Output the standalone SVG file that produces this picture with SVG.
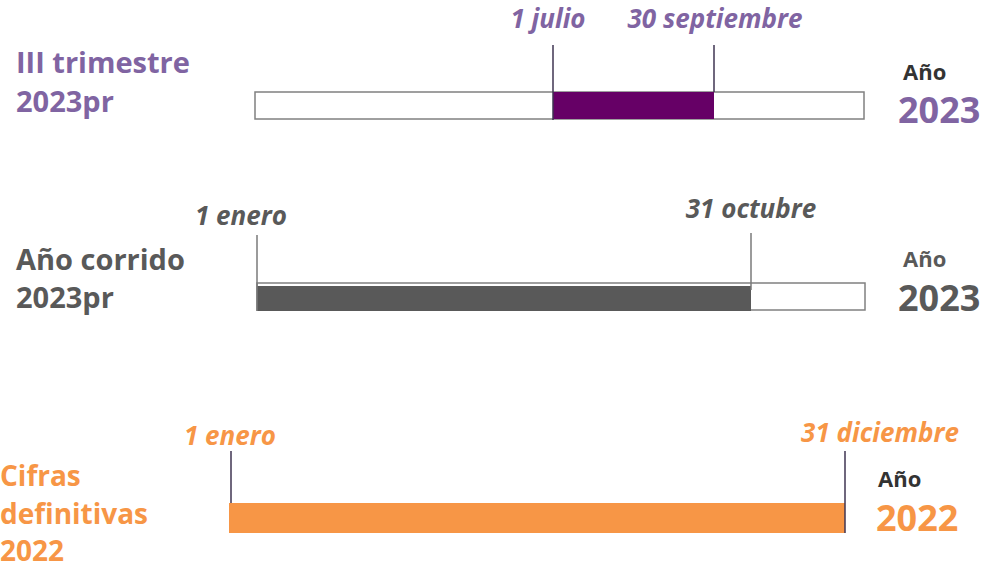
<svg xmlns="http://www.w3.org/2000/svg" width="992" height="568" viewBox="0 0 992 568">
<style>
text{font-family:"Open Sans","Noto Sans","Liberation Sans",sans-serif;font-weight:bold}
.date{font-style:italic;font-size:26px}
.title{font-size:29px}
.small{font-size:28px}
.ano{font-size:22px;fill:#333}
.year{font-size:36px}
.pu{fill:#8064a2}
.gr{fill:#595959}
.or{fill:#f79646}
.tick{stroke:#3f3552;stroke-width:1.5}
.tickg{stroke:#7a7a7a;stroke-width:1.5}
.frame{fill:#fff;stroke:#808080;stroke-width:1.5}
</style>
<g id="trimestre">
<text class="title pu" x="16" y="73">III trimestre</text>
<text class="title pu" x="16" y="112">2023pr</text>
<rect class="frame" x="255" y="92" width="609" height="27"/>
<rect x="553" y="92" width="161" height="27" fill="#660066"/>
<line class="tick" x1="553" y1="45" x2="553" y2="120"/>
<line class="tick" x1="714" y1="45" x2="714" y2="92"/>
<text class="date pu" x="548" y="28" text-anchor="middle">1 julio</text>
<text class="date pu" x="715" y="28" text-anchor="middle">30 septiembre</text>
<text class="ano" x="903" y="80">Año</text>
<text class="year pu" x="898" y="123">2023</text>
</g>
<g id="corrido">
<text class="title gr" x="16" y="270">Año corrido</text>
<text class="title gr" x="16" y="308">2023pr</text>
<rect class="frame" x="257" y="283" width="608" height="27"/>
<rect x="257" y="286" width="494" height="25" fill="#595959"/>
<line class="tickg" x1="257" y1="235" x2="257" y2="311"/>
<line class="tickg" x1="751" y1="233" x2="751" y2="290"/>
<text class="date gr" x="241" y="225" text-anchor="middle">1 enero</text>
<text class="date gr" x="751" y="218" text-anchor="middle">31 octubre</text>
<text class="ano gr" x="903" y="267">Año</text>
<text class="year gr" x="898" y="311">2023</text>
</g>
<g id="definitivas">
<text class="small or" x="0" y="486">Cifras</text>
<text class="small or" x="0" y="524">definitivas</text>
<text class="small or" x="0" y="561">2022</text>
<rect x="229" y="503" width="616" height="30" fill="#f79646"/>
<line class="tick" x1="231" y1="451" x2="231" y2="503"/>
<line class="tick" x1="845" y1="451" x2="845" y2="533"/>
<text class="date or" x="230" y="445" text-anchor="middle">1 enero</text>
<text class="date or" x="880" y="442" text-anchor="middle">31 diciembre</text>
<text class="ano" x="878" y="487">Año</text>
<text class="year or" x="876" y="531">2022</text>
</g>
</svg>
